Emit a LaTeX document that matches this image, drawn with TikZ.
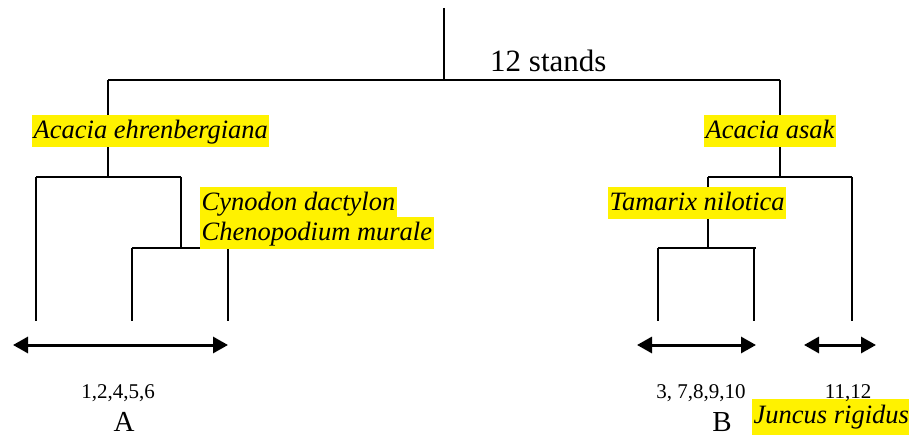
\documentclass[tikz,border=0pt]{standalone}
\usepackage{fontspec}
\setmainfont{Liberation Serif}[ItalicFont={Liberation Serif Italic}]
\usetikzlibrary{arrows.meta}
\begin{document}
\begin{tikzpicture}[x=1pt,y=-1pt,
  branch/.style={draw=black,line width=2pt},
  span/.style={draw=black,line width=3pt,{Triangle[length=15pt,width=16pt]}-{Triangle[length=15pt,width=16pt]}},
  species/.style={fill=yellow,inner xsep=1.5pt,inner ysep=0pt,text height=24pt,text depth=8pt,
    font=\fontsize{26.5}{30}\selectfont\itshape,anchor=base west},
  nums/.style={inner sep=0pt,anchor=base,font=\fontsize{21}{24}\selectfont},
  group/.style={inner sep=0pt,anchor=base,text depth=0pt,font=\fontsize{29}{33}\selectfont}]
\useasboundingbox (0,0) rectangle (909,435);
% junction coordinates
\coordinate (root) at (444,8);
\coordinate (r) at (444,80);
\coordinate (rl) at (108,80);
\coordinate (rr) at (780,80);
\coordinate (l) at (108,177);
\coordinate (ll) at (36,177);
\coordinate (lr) at (181,177);
\coordinate (lrj) at (181,248);
\coordinate (lrl) at (132,248);
\coordinate (lrr) at (228,248);
\coordinate (leaf1) at (36,321);
\coordinate (leaf2) at (132,321);
\coordinate (leaf3) at (228,321);
\coordinate (g) at (780,177);
\coordinate (gl) at (708,177);
\coordinate (gr) at (852,177);
\coordinate (glj) at (708,248);
\coordinate (gll) at (658,248);
\coordinate (glr) at (756,248);
\coordinate (glrj) at (754,248);
\coordinate (leaf4) at (658,321);
\coordinate (leaf5) at (754,321);
\coordinate (leaf6) at (852,321);
% tree
\draw[branch] (root) -- (r);
\draw[branch] (rl) -- (rr);
\draw[branch] (rl) -- (l);
\draw[branch] (rr) -- (g);
\draw[branch] (ll) -- (lr);
\draw[branch] (ll) -- (leaf1);
\draw[branch] (lr) -- (lrj);
\draw[branch] (lrl) -- (lrr);
\draw[branch] (lrl) -- (leaf2);
\draw[branch] (lrr) -- (leaf3);
\draw[branch] (gl) -- (gr);
\draw[branch] (gl) -- (glj);
\draw[branch] (gr) -- (leaf6);
\draw[branch] (gll) -- (glr);
\draw[branch] (gll) -- (leaf4);
\draw[branch] (glrj) -- (leaf5);
% spans
\coordinate (aL) at (13,345);
\coordinate (aR) at (228,345);
\coordinate (bL) at (637,345);
\coordinate (bR) at (756,345);
\coordinate (cL) at (804,345);
\coordinate (cR) at (876,345);
\draw[span] (aL) -- (aR);
\draw[span] (bL) -- (bR);
\draw[span] (cL) -- (cR);
% labels
\node[inner sep=0pt,anchor=base west,font=\fontsize{31}{35}\selectfont] (stands) at (490,72) {12 stands};
\node[species] (ae) at (32,139) {Acacia ehrenbergiana};
\node[species,text depth=6pt] (cd) at (200,211) {Cynodon dactylon};
\node[species] (cm) at (200,241) {Chenopodium murale};
\node[species] (aa) at (704,139) {Acacia asak};
\node[species] (tn) at (608,211) {Tamarix nilotica};
\node[species,text depth=12pt] (jr) at (752,423) {Juncus rigidus};
\node[nums] (na) at (118,398) {1,2,4,5,6};
\node[nums] (nb) at (701,398) {3, 7,8,9,10};
\node[nums] (nc) at (848,398) {11,12};
\node[group] (ga) at (124,431) {A};
\node[group] (gb) at (722,431) {B};
\end{tikzpicture}
\end{document}
